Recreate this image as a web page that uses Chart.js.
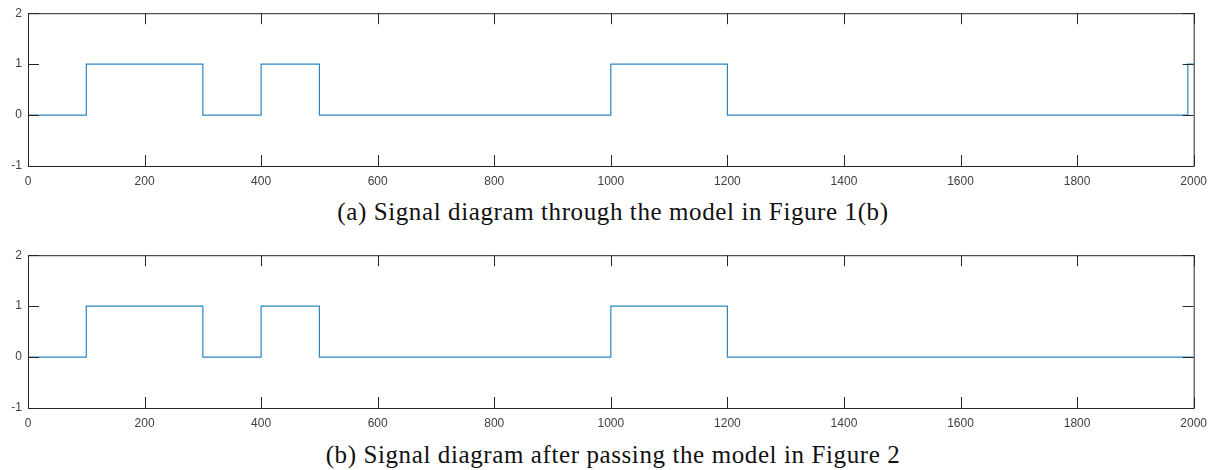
<!DOCTYPE html>
<html>
<head>
<meta charset="utf-8">
<script src="https://cdn.jsdelivr.net/npm/chart.js@4.4.1/dist/chart.umd.min.js"></script>
<style>
  body { margin:0; background:#fff; width:1215px; height:470px; overflow:hidden; position:relative; }
  .plot { position:absolute; left:0; width:1215px; height:190px; }
  .cap { position:absolute; left:0; width:1226px; text-align:center; font-family:"Liberation Serif","Times New Roman",serif; font-size:25px; line-height:25px; letter-spacing:0.6px; color:#111; }
</style>
</head>
<body>
<div class="plot" style="top:0"><canvas id="sigA"></canvas></div>
<div class="cap" style="top:199px">(a) Signal diagram through the model in Figure 1(b)</div>
<div class="plot" style="top:242px"><canvas id="sigB"></canvas></div>
<div class="cap" style="top:442px">(b) Signal diagram after passing the model in Figure 2</div>
<script>
// edge times and the level that starts at each edge
const edgesA = [0, 100, 300, 400, 500, 1000, 1200, 1990, 2000];
const levelsA = [0, 1, 0, 1, 0, 1, 0, 1, 1];
const edgesB = [0, 100, 300, 400, 500, 1000, 1200, 2000];
const levelsB = [0, 1, 0, 1, 0, 1, 0, 0];
const xTicks = [0, 200, 400, 600, 800, 1000, 1200, 1400, 1600, 1800, 2000];
const yTicks = [-1, 0, 1, 2];

const axisColor = '#262626';
const lineColor = '#2b86c2';

// matlab style box with inward ticks on all four sides
const boxPlugin = {
  id: 'box',
  afterDraw(chart) {
    const { ctx, chartArea: a, scales } = chart;
    const len = 11;
    ctx.save();
    ctx.strokeStyle = axisColor;
    ctx.lineWidth = 1;
    ctx.strokeRect(a.left + 0.5, a.top + 0.5, a.right - a.left, a.bottom - a.top);
    ctx.beginPath();
    xTicks.forEach(v => {
      const px = Math.round(scales.x.getPixelForValue(v)) + 0.5;
      ctx.moveTo(px, a.bottom); ctx.lineTo(px, a.bottom - len);
      ctx.moveTo(px, a.top); ctx.lineTo(px, a.top + len);
    });
    yTicks.forEach(v => {
      const py = Math.round(scales.y.getPixelForValue(v)) + 0.5;
      ctx.moveTo(a.left, py); ctx.lineTo(a.left + len, py);
      ctx.moveTo(a.right, py); ctx.lineTo(a.right - len, py);
    });
    ctx.stroke();
    ctx.restore();
  }
};

function makeChart(id, edges, levels) {
  return new Chart(document.getElementById(id), {
    type: 'line',
    data: {
      datasets: [{
        data: edges.map((t, i) => ({ x: t, y: levels[i] })),
        borderColor: lineColor,
        borderWidth: 1.2,
        pointRadius: 0,
        stepped: true,
        fill: false
      }]
    },
    options: {
      responsive: true,
      maintainAspectRatio: false,
      animation: false,
      layout: { padding: { top: 11, right: 21, left: 0, bottom: 0 } },
      plugins: { legend: { display: false }, tooltip: { enabled: false } },
      scales: {
        x: {
          type: 'linear', min: 0, max: 2000,
          grid: { display: false, drawTicks: false },
          border: { display: false },
          afterBuildTicks: s => { s.ticks = xTicks.map(v => ({ value: v })); },
          afterFit: s => { s.height = 24; },
          ticks: { autoSkip: false, maxRotation: 0, padding: 8, color: '#404040',
                   callback: v => String(v),
                   font: { family: 'Liberation Sans, Arial, sans-serif', size: 12 } }
        },
        y: {
          min: -1, max: 2,
          grid: { display: false, drawTicks: false },
          border: { display: false },
          afterBuildTicks: s => { s.ticks = yTicks.map(v => ({ value: v })); },
          afterFit: s => { s.width = 28; },
          ticks: { padding: 6, color: '#404040',
                   callback: v => String(v),
                   font: { family: 'Liberation Sans, Arial, sans-serif', size: 12 } }
        }
      }
    },
    plugins: [boxPlugin]
  });
}

makeChart('sigA', edgesA, levelsA);
makeChart('sigB', edgesB, levelsB);
</script>
</body>
</html>
